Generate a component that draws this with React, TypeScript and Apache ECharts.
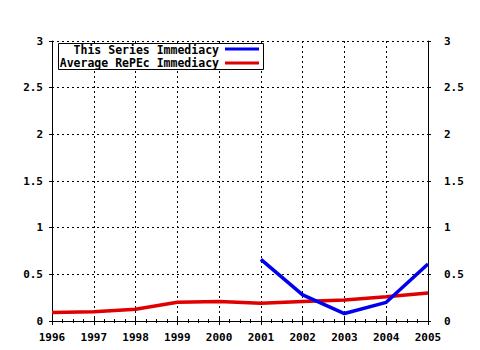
import React, { useEffect, useRef } from "react";
import * as echarts from "echarts";

const years = [1996, 1997, 1998, 1999, 2000, 2001, 2002, 2003, 2004, 2005];
const seriesImmediacy: (number | null)[] = [null, null, null, null, null, 0.66, 0.28, 0.08, 0.2, 0.61];
const averageImmediacy = [0.09, 0.1, 0.125, 0.2, 0.21, 0.19, 0.21, 0.225, 0.26, 0.3];
const seriesNames = ["This Series Immediacy", "Average RePEc Immediacy"];
const colors = ["#0000ee", "#e00000"];

const FONT = "'DejaVu Sans Mono', monospace";

export default function App() {
  const ref = useRef<HTMLDivElement>(null);
  useEffect(() => {
    if (!ref.current) return;
    const chart = echarts.init(ref.current, undefined, { renderer: "svg" });
    const labelStyle = { color: "#000", fontFamily: FONT, fontSize: 11, fontWeight: "bold" as const };
    const axisLine = { show: true, lineStyle: { color: "#000", width: 1 } };
    const gridLine = { show: true, lineStyle: { color: "#000", width: 1, type: [2, 3] as number[] } };
    const option: any = {
      animation: false,
      backgroundColor: "#fff",
      grid: { left: 52, right: 52, top: 41, bottom: 29, containLabel: false },
      xAxis: [
        {
          type: "value",
          min: 1996,
          max: 2005,
          interval: 1,
          position: "bottom",
          axisLine,
          axisTick: { show: true, length: 4, lineStyle: { color: "#000" } },
          minorTick: { show: true, splitNumber: 4, length: 2, lineStyle: { color: "#000" } },
          axisLabel: { ...labelStyle, margin: 11, formatter: (v: number) => String(v) },
          splitLine: gridLine,
        },
        {
          type: "value",
          min: 1996,
          max: 2005,
          interval: 1,
          position: "top",
          axisLine,
          axisTick: { show: true, length: 4, lineStyle: { color: "#000" } },
          minorTick: { show: true, splitNumber: 4, length: 2, lineStyle: { color: "#000" } },
          axisLabel: { show: false },
          splitLine: { show: false },
        },
      ],
      yAxis: [
        {
          type: "value",
          min: 0,
          max: 3,
          interval: 0.5,
          position: "left",
          axisLine,
          axisTick: { show: true, length: 3, lineStyle: { color: "#000" } },
          axisLabel: { ...labelStyle, margin: 9 },
          splitLine: gridLine,
        },
        {
          type: "value",
          min: 0,
          max: 3,
          interval: 0.5,
          position: "right",
          axisLine,
          axisTick: { show: true, length: 3, lineStyle: { color: "#000" } },
          axisLabel: { ...labelStyle, margin: 16 },
          splitLine: { show: false },
        },
      ],
      series: [
        {
          name: seriesNames[0],
          type: "line",
          data: years.map((y, i) => [y, seriesImmediacy[i]]),
          showSymbol: false,
          symbol: "none",
          connectNulls: false,
          lineStyle: { color: colors[0], width: 3.5 },
          itemStyle: { color: colors[0] },
          z: 3,
        },
        {
          name: seriesNames[1],
          type: "line",
          data: years.map((y, i) => [y, averageImmediacy[i]]),
          showSymbol: false,
          symbol: "none",
          lineStyle: { color: colors[1], width: 3.5 },
          itemStyle: { color: colors[1] },
          z: 2,
        },
      ],
      graphic: [
        {
          type: "rect",
          shape: { x: 58.5, y: 43.5, width: 205, height: 26 },
          style: { fill: "#fff", stroke: "#000", lineWidth: 1 },
          z: 10,
        },
        {
          type: "text",
          x: 219,
          y: 50,
          style: { text: seriesNames[0], textAlign: "right", textVerticalAlign: "middle", fill: "#000", font: `bold 11.5px ${FONT}` },
          z: 11,
        },
        {
          type: "text",
          x: 219,
          y: 63,
          style: { text: seriesNames[1], textAlign: "right", textVerticalAlign: "middle", fill: "#000", font: `bold 11.5px ${FONT}` },
          z: 11,
        },
        {
          type: "line",
          shape: { x1: 225, y1: 49, x2: 259, y2: 49 },
          style: { stroke: colors[0], lineWidth: 3 },
          z: 11,
        },
        {
          type: "line",
          shape: { x1: 225, y1: 63, x2: 259, y2: 63 },
          style: { stroke: colors[1], lineWidth: 3 },
          z: 11,
        },
      ],
    };
    chart.setOption(option);
    return () => chart.dispose();
  }, []);
  return (
    <div
      ref={ref}
      style={{ position: "fixed", left: 0, top: 0, width: 480, height: 350, background: "#fff" }}
    />
  );
}
